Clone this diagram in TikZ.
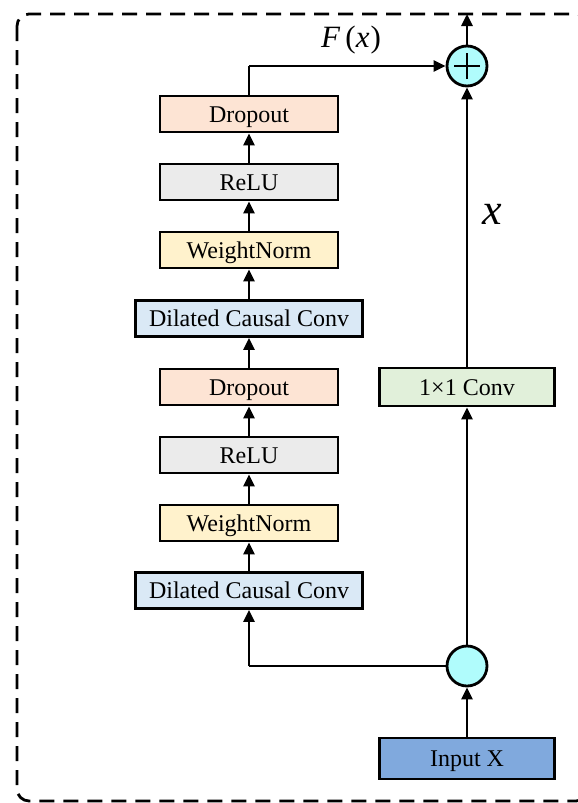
\documentclass[tikz,border=0pt]{standalone}
\usepackage{fontspec}
\setmainfont{Liberation Serif}
\usetikzlibrary{arrows.meta}
\definecolor{cdrop}{HTML}{FDE4D4}
\definecolor{crelu}{HTML}{EBEBEB}
\definecolor{cwn}{HTML}{FFF2CC}
\definecolor{cdcc}{HTML}{DAE9F6}
\definecolor{cconv}{HTML}{E1F0DA}
\definecolor{cin}{HTML}{80A9DD}
\definecolor{ccirc}{HTML}{B0FCFC}
\tikzset{
  box/.style={draw=black, line width=2.8pt, minimum height=36pt, inner sep=0pt, text height=16pt, text depth=0pt, font=\fontsize{24}{28}\selectfont},
  narrow/.style={box, minimum width=178pt},
  wide/.style={box, minimum width=227pt},
  side/.style={box, minimum width=175pt, minimum height=38pt},
  junc/.style={circle, draw=black, line width=2.8pt, fill=ccirc, minimum size=40pt, inner sep=0pt},
  arr/.style={line width=2.8pt, -{Triangle[length=12pt,width=11pt]}},
  ln/.style={line width=2.8pt},
}
\begin{document}
\begin{tikzpicture}[x=1pt,y=-1pt]
\useasboundingbox (0,0) rectangle (578,803);
\begin{scope}
\clip (0,0) rectangle (578,803);
\draw[line width=2.8pt, dash pattern=on 15pt off 9pt, rounded corners=12pt] (17,14) rectangle (588,801);
\end{scope}
% left branch
\node[narrow, fill=cdrop] (d2) at (249,114) {Dropout};
\node[narrow, fill=crelu] (r2) at (249,182) {ReLU};
\node[narrow, fill=cwn] (w2) at (249,250) {WeightNorm};
\node[wide, fill=cdcc] (c2) at (249,318.5) {Dilated Causal Conv};
\node[narrow, fill=cdrop] (d1) at (249,387) {Dropout};
\node[narrow, fill=crelu] (r1) at (249,455) {ReLU};
\node[narrow, fill=cwn] (w1) at (249,523) {WeightNorm};
\node[wide, fill=cdcc] (c1) at (249,590.5) {Dilated Causal Conv};
% right branch
\node[side, fill=cconv] (conv) at (467,387) {1×1 Conv};
\node[side, fill=cin, minimum height=41pt] (in) at (467,758.5) {Input X};
\node[junc] (split) at (467,666) {};
\node[junc, path picture={
  \draw[line width=2.8pt] ([xshift=-13pt]path picture bounding box.center) -- ([xshift=13pt]path picture bounding box.center);
  \draw[line width=2.8pt] ([yshift=-13pt]path picture bounding box.center) -- ([yshift=13pt]path picture bounding box.center);
}] (plus) at (467,66) {};
\coordinate (top) at (467,14);
\coordinate (cornerA) at (249,666);
\coordinate (cornerB) at (249,66);
% connectors
\draw[arr] (in) -- (split);
\draw[ln] (split) -- (cornerA);
\draw[arr] (cornerA) -- (c1);
\draw[arr] (c1) -- (w1);
\draw[arr] (w1) -- (r1);
\draw[arr] (r1) -- (d1);
\draw[arr] (d1) -- (c2);
\draw[arr] (c2) -- (w2);
\draw[arr] (w2) -- (r2);
\draw[arr] (r2) -- (d2);
\draw[ln] (d2) -- (cornerB);
\draw[arr] (cornerB) -- (plus);
\draw[arr] (split) -- (conv);
\draw[arr] (conv) -- (plus);
\draw[arr] (plus) -- (top);
% labels
\node[font=\fontsize{31}{34}\selectfont] (fx) at (351,40) {\textit{F}\,(\textit{x}\kern1pt)};
\node[font=\fontsize{44}{48}\selectfont\itshape] (xl) at (492,214) {x};
\end{tikzpicture}
\end{document}
